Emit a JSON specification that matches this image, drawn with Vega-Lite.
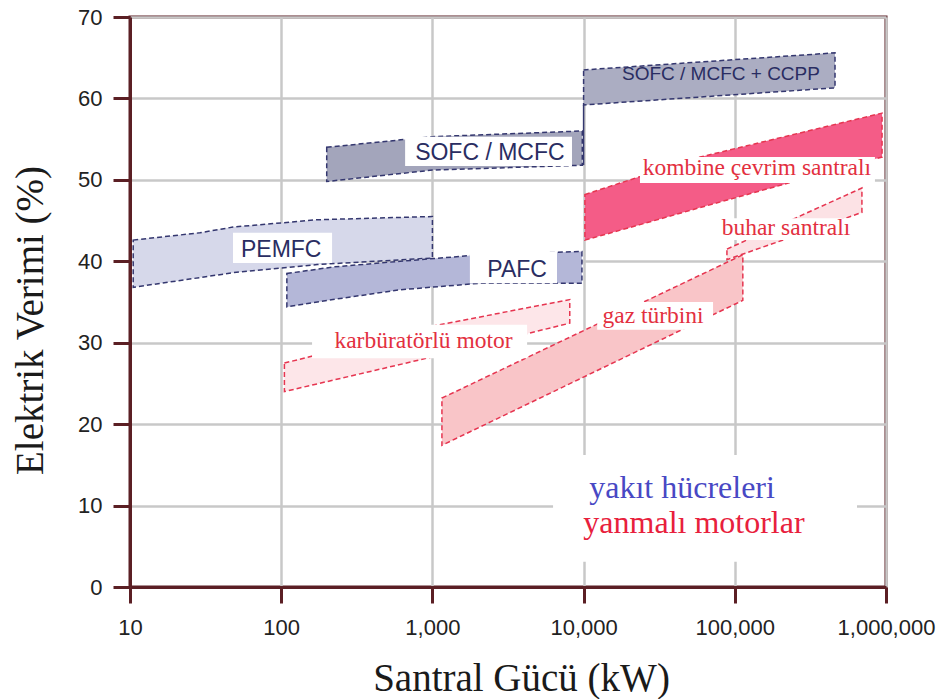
{
  "$schema": "https://vega.github.io/schema/vega-lite/v6.json",
  "width": 756,
  "height": 570,
  "autosize": {"type": "none"},
  "padding": {"left": 130, "top": 17, "right": 57, "bottom": 112},
  "background": "white",
  "config": {
    "view": {"stroke": "#5b1f24", "strokeWidth": 3},
    "axis": {
      "grid": true,
      "gridColor": "#c8c8c8",
      "gridWidth": 2.5,
      "domainColor": "#5b1f24",
      "domainWidth": 3,
      "tickColor": "#5b1f24",
      "tickWidth": 3,
      "labelFont": "Liberation Sans",
      "labelFontSize": 22,
      "labelColor": "#222222",
      "labelOverlap": false,
      "titleFont": "Liberation Serif",
      "titleFontSize": 39,
      "titleFontWeight": "normal",
      "titleColor": "#1a1a1a"
    }
  },
  "datasets": {
    "bands": [
      {"band": "PEMFC", "grp": "fc", "x": 10.5, "top": 42.6, "bottom": 36.8},
      {"band": "PEMFC", "grp": "fc", "x": 29, "top": 43.5, "bottom": 38.0},
      {"band": "PEMFC", "grp": "fc", "x": 48, "top": 44.2, "bottom": 38.6},
      {"band": "PEMFC", "grp": "fc", "x": 173, "top": 45.1, "bottom": 39.6},
      {"band": "PEMFC", "grp": "fc", "x": 1000, "top": 45.5, "bottom": 40.4},
      {"band": "PAFC", "grp": "fc", "x": 109, "top": 38.5, "bottom": 34.4},
      {"band": "PAFC", "grp": "fc", "x": 220, "top": 39.3, "bottom": 35.3},
      {"band": "PAFC", "grp": "fc", "x": 611, "top": 40.0, "bottom": 36.5},
      {"band": "PAFC", "grp": "fc", "x": 2065, "top": 40.8, "bottom": 37.3},
      {"band": "PAFC", "grp": "fc", "x": 9750, "top": 41.2, "bottom": 37.3},
      {"band": "SOFC / MCFC", "grp": "fc", "x": 200, "top": 54.0, "bottom": 49.8},
      {"band": "SOFC / MCFC", "grp": "fc", "x": 1000, "top": 55.3, "bottom": 51.2},
      {"band": "SOFC / MCFC", "grp": "fc", "x": 9800, "top": 56.0, "bottom": 51.8},
      {"band": "SOFC / MCFC + CCPP", "grp": "fc", "x": 10000, "top": 63.5, "bottom": 59.2},
      {"band": "SOFC / MCFC + CCPP", "grp": "fc", "x": 460000, "top": 65.6, "bottom": 61.3},
      {"band": "karbüratörlü motor", "grp": "ic", "x": 105, "top": 27.5, "bottom": 24.0},
      {"band": "karbüratörlü motor", "grp": "ic", "x": 920, "top": 31.9, "bottom": 28.1},
      {"band": "karbüratörlü motor", "grp": "ic", "x": 8100, "top": 35.3, "bottom": 32.4},
      {"band": "gaz türbini", "grp": "ic", "x": 1156, "top": 23.2, "bottom": 17.4},
      {"band": "gaz türbini", "grp": "ic", "x": 113000, "top": 40.8, "bottom": 35.2},
      {"band": "buhar santralı", "grp": "ic", "x": 88700, "top": 41.5, "bottom": 40.2},
      {"band": "buhar santralı", "grp": "ic", "x": 693000, "top": 49.0, "bottom": 46.0},
      {"band": "kombine çevrim santralı", "grp": "ic", "x": 10200, "top": 48.2, "bottom": 42.6},
      {"band": "kombine çevrim santralı", "grp": "ic", "x": 23600, "top": 50.4, "bottom": 44.5},
      {"band": "kombine çevrim santralı", "grp": "ic", "x": 59000, "top": 52.8, "bottom": 46.6},
      {"band": "kombine çevrim santralı", "grp": "ic", "x": 942000, "top": 58.2, "bottom": 52.8}
    ],
    "steps": [
      {"x": 10000, "y1": 51.8, "y2": 59.2}
    ],
    "boxes": [
      {"label": "PEMFC", "x1": 48, "x2": 217, "y1": 43.5, "y2": 39.8},
      {"label": "PAFC", "x1": 1770, "x2": 6670, "y1": 41.2, "y2": 37.3},
      {"label": "SOFC / MCFC", "x1": 660, "x2": 8380, "y1": 55.3, "y2": 51.7},
      {"label": "kombine çevrim santralı", "x1": 23600, "x2": 845000, "y1": 52.8, "y2": 49.6},
      {"label": "buhar santralı", "x1": 79800, "x2": 624000, "y1": 45.3, "y2": 42.6},
      {"label": "gaz türbini", "x1": 12300, "x2": 71800, "y1": 35.0, "y2": 31.6},
      {"label": "karbüratörlü motor", "x1": 160, "x2": 4230, "y1": 32.2, "y2": 28.1},
      {"label": "legend", "x1": 6280, "x2": 643000, "y1": 16.2, "y2": 3.1}
    ],
    "labels": [
      {"text": "PEMFC", "kind": "fc", "x": 100, "y": 40.5},
      {"text": "PAFC", "kind": "fc", "x": 3630, "y": 38.1},
      {"text": "SOFC / MCFC", "kind": "fc", "x": 2400, "y": 52.5},
      {"text": "SOFC / MCFC + CCPP", "kind": "fcsmall", "x": 81000, "y": 62.3},
      {"text": "kombine çevrim santralı", "kind": "ic", "x": 140000, "y": 50.6},
      {"text": "buhar santralı", "kind": "ic", "x": 218000, "y": 43.2},
      {"text": "gaz türbini", "kind": "ic", "x": 28800, "y": 32.4},
      {"text": "karbüratörlü motor", "kind": "ic", "x": 873, "y": 29.4},
      {"text": "yakıt hücreleri", "kind": "legfc", "x": 44800, "y": 10.9},
      {"text": "yanmalı motorlar", "kind": "legic", "x": 53700, "y": 6.6}
    ]
  },
  "layer": [
    {
      "data": {"name": "bands"},
      "mark": {"type": "area", "strokeDash": [5, 3], "strokeWidth": 1.5, "fillOpacity": 1, "strokeOpacity": 1},
      "encoding": {
        "x": {
          "field": "x", "type": "quantitative",
          "scale": {"type": "log", "domain": [10, 1000000], "nice": false},
          "axis": {
            "title": "Santral Gücü (kW)",
            "values": [10, 100, 1000, 10000, 100000, 1000000],
            "format": ",",
            "tickSize": 16,
            "labelPadding": 14,
            "labelFlush": false,
            "titleX": 391,
            "titleY": 103,
            "titleAlign": "center",
            "titleBaseline": "alphabetic"
          }
        },
        "y": {
          "field": "top", "type": "quantitative",
          "stack": null,
          "scale": {"domain": [0, 70], "nice": false},
          "axis": {
            "title": "Elektrik Verimi (%)",
            "values": [0, 10, 20, 30, 40, 50, 60, 70],
            "tickSize": 17,
            "labelPadding": 11,
            "titleX": -88,
            "titleY": 303,
            "titleAngle": -90,
            "titleAlign": "center",
            "titleBaseline": "alphabetic"
          }
        },
        "y2": {"field": "bottom"},
        "detail": {"field": "band"},
        "fill": {
          "field": "band", "type": "nominal", "legend": null,
          "scale": {
            "domain": ["PEMFC", "PAFC", "SOFC / MCFC", "SOFC / MCFC + CCPP", "karbüratörlü motor", "gaz türbini", "buhar santralı", "kombine çevrim santralı"],
            "range": ["#d6d8ea", "#b4b7d8", "#a3a5bb", "#abadc2", "#fde6e9", "#f9c5c8", "#fce2e5", "#f45c87"]
          }
        },
        "stroke": {
          "field": "grp", "type": "nominal", "legend": null,
          "scale": {"domain": ["fc", "ic"], "range": ["#34376f", "#e63550"]}
        }
      }
    },
    {
      "data": {"name": "steps"},
      "mark": {"type": "rule", "color": "#34376f", "strokeWidth": 1.5},
      "encoding": {
        "x": {"field": "x", "type": "quantitative"},
        "y": {"field": "y1", "type": "quantitative"},
        "y2": {"field": "y2"}
      }
    },
    {
      "data": {"name": "boxes"},
      "mark": {"type": "rect", "fill": "white", "stroke": null},
      "encoding": {
        "x": {"field": "x1", "type": "quantitative"},
        "x2": {"field": "x2"},
        "y": {"field": "y1", "type": "quantitative"},
        "y2": {"field": "y2"}
      }
    },
    {
      "data": {"name": "labels"},
      "transform": [{"filter": "datum.kind === 'fc'"}],
      "mark": {"type": "text", "font": "Liberation Sans", "fontSize": 23, "color": "#2a2d62", "align": "center", "baseline": "alphabetic"},
      "encoding": {
        "x": {"field": "x", "type": "quantitative"},
        "y": {"field": "y", "type": "quantitative"},
        "text": {"field": "text"}
      }
    },
    {
      "data": {"name": "labels"},
      "transform": [{"filter": "datum.kind === 'fcsmall'"}],
      "mark": {"type": "text", "font": "Liberation Sans", "fontSize": 19, "color": "#2a2d62", "align": "center", "baseline": "alphabetic"},
      "encoding": {
        "x": {"field": "x", "type": "quantitative"},
        "y": {"field": "y", "type": "quantitative"},
        "text": {"field": "text"}
      }
    },
    {
      "data": {"name": "labels"},
      "transform": [{"filter": "datum.kind === 'ic'"}],
      "mark": {"type": "text", "font": "Liberation Serif", "fontSize": 23.5, "color": "#e3303f", "align": "center", "baseline": "alphabetic"},
      "encoding": {
        "x": {"field": "x", "type": "quantitative"},
        "y": {"field": "y", "type": "quantitative"},
        "text": {"field": "text"}
      }
    },
    {
      "data": {"name": "labels"},
      "transform": [{"filter": "datum.kind === 'legfc'"}],
      "mark": {"type": "text", "font": "Liberation Serif", "fontSize": 32, "color": "#4848c4", "align": "center", "baseline": "alphabetic"},
      "encoding": {
        "x": {"field": "x", "type": "quantitative"},
        "y": {"field": "y", "type": "quantitative"},
        "text": {"field": "text"}
      }
    },
    {
      "data": {"name": "labels"},
      "transform": [{"filter": "datum.kind === 'legic'"}],
      "mark": {"type": "text", "font": "Liberation Serif", "fontSize": 32, "color": "#e8203c", "align": "center", "baseline": "alphabetic"},
      "encoding": {
        "x": {"field": "x", "type": "quantitative"},
        "y": {"field": "y", "type": "quantitative"},
        "text": {"field": "text"}
      }
    }
  ]
}
